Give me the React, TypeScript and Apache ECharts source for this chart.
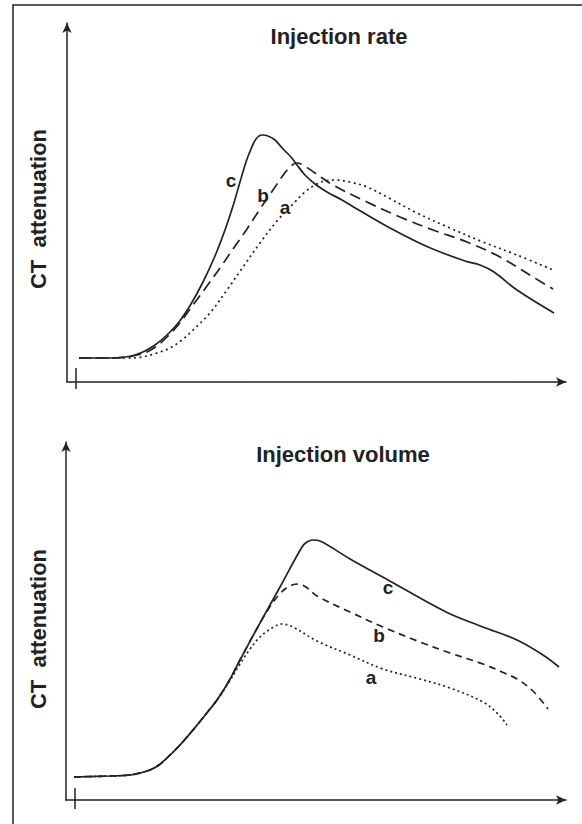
import React, { useEffect, useRef } from "react";
import * as echarts from "echarts";

// ---- texts ----
const curveNames = ["a", "b", "c"];
const panelTitles = ["Injection rate", "Injection volume"];
const yAxisTitle = "CT  attenuation";

// ---- data (x: time, y: attenuation; arbitrary units) ----
// Panel 1: Injection rate
const rateA: [number, number][] = [
  [12, 24], [43, 24], [60, 24], [75, 25], [90, 29], [103, 34], [115, 42], [126, 52],
  [143, 69], [160, 92], [176, 115], [193, 139], [210, 161], [226, 178], [238, 190],
  [248, 197], [258, 201], [268, 202], [283, 200], [300, 195], [320, 185], [350, 169],
  [383, 154], [416, 140], [450, 127], [486, 112],
];
const rateB: [number, number][] = [
  [12, 24], [43, 24], [60, 25], [70, 27], [80, 30], [90, 36], [100, 45], [112, 58],
  [126, 77], [140, 96], [153, 114], [166, 133], [180, 153], [193, 173], [206, 192],
  [217, 208], [224, 216], [230, 219], [236, 217], [248, 209], [266, 197], [300, 180],
  [333, 165], [366, 152], [400, 140], [433, 125], [466, 105], [486, 93],
];
const rateC: [number, number][] = [
  [12, 24], [43, 24], [58, 25], [68, 27], [78, 31], [88, 37], [100, 47], [112, 60],
  [124, 78], [136, 100], [148, 126], [158, 152], [166, 176], [173, 200], [179, 220],
  [184, 233], [189, 243], [195, 247], [201, 246], [208, 242], [216, 233], [224, 225],
  [230, 217], [238, 207], [248, 198], [260, 190], [275, 182], [290, 173], [323, 154],
  [361, 135], [398, 121], [413, 117], [427, 110], [450, 92], [487, 69],
];
// Panel 2: Injection volume
const volumeA: [number, number][] = [
  [8, 23], [44, 24], [64, 25], [74, 27], [84, 30], [93, 35], [101, 42], [114, 55],
  [127, 70], [140, 86], [151, 100], [163, 118], [174, 136], [184, 151], [194, 163],
  [206, 172], [216, 176], [227, 173], [251, 159], [284, 145], [317, 131], [354, 121],
  [384, 112], [417, 98], [432, 86], [441, 75],
];
const volumeB: [number, number][] = [
  [8, 23], [44, 24], [64, 25], [74, 27], [84, 30], [93, 35], [101, 42], [114, 55],
  [127, 70], [140, 86], [151, 100], [163, 119], [174, 140], [194, 177], [205, 195],
  [212, 204], [219, 211], [226, 215], [232, 216], [240, 213], [251, 204], [284, 188],
  [317, 173], [354, 158], [384, 147], [417, 136], [436, 128], [451, 121], [467, 109], [482, 91],
];
const volumeC: [number, number][] = [
  [8, 23], [44, 24], [64, 25], [74, 27], [84, 30], [93, 35], [101, 42], [114, 55],
  [127, 70], [140, 86], [151, 100], [163, 119], [174, 140], [194, 177], [214, 213],
  [236, 253], [241, 258], [247, 260], [254, 259], [284, 241], [322, 220], [380, 188],
  [417, 173], [451, 160], [477, 145], [493, 133],
];

// curve label anchor points (a, b, c)
const rateLabelAt: [number, number][] = [[218, 175], [196, 187], [164, 202]];
const volumeLabelAt: [number, number][] = [[305, 123], [313, 165], [322, 213]];

// small vertical mark on the time axis (injection start)
const rateStartMark: [number, number][] = [[9, -7], [9, 14]];
const volumeStartMark: [number, number][] = [[9, -9], [9, 12]];

const INK = "#222222";
const FONT = "'Liberation Sans', Arial, Helvetica, sans-serif";

export default function App() {
  const ref = useRef<HTMLDivElement>(null);

  useEffect(() => {
    const chart = echarts.init(ref.current!, null, { renderer: "svg" });

    const axisLine = {
      show: true,
      onZero: false,
      symbol: ["none", "arrow"],
      symbolSize: [7, 10],
      lineStyle: { color: INK, width: 1.5 },
    };
    const axis = (gridIndex: number, max: number) => ({
      type: "value",
      gridIndex,
      min: 0,
      max,
      axisLine,
      axisTick: { show: false },
      axisLabel: { show: false },
      splitLine: { show: false },
    });

    const curve = (
      name: string,
      data: [number, number][],
      idx: number,
      dash: any,
      width: number
    ) => ({
      type: "line",
      name,
      data,
      xAxisIndex: idx,
      yAxisIndex: idx,
      smooth: 0.35,
      symbol: "none",
      silent: true,
      lineStyle: { color: INK, width, type: dash },
    });

    const mark = (data: [number, number][], idx: number) => ({
      type: "line",
      data,
      xAxisIndex: idx,
      yAxisIndex: idx,
      clip: false,
      symbol: "none",
      silent: true,
      lineStyle: { color: INK, width: 1.5 },
    });

    const textStyle = {
      fontSize: 22,
      fontWeight: "bold",
      fontFamily: FONT,
      fill: INK,
      align: "center",
      verticalAlign: "middle",
    };

    chart.setOption({
      animation: false,
      backgroundColor: "#ffffff",
      grid: [
        { left: 67, right: 16, top: 23, bottom: 442 },
        { left: 66, right: 16, top: 442, bottom: 24 },
      ],
      xAxis: [axis(0, 499), axis(1, 500)],
      yAxis: [axis(0, 359), axis(1, 358)],
      series: [
        curve("a", rateA, 0, [2, 3.5], 1.7),
        curve("b", rateB, 0, [11, 6], 1.7),
        curve("c", rateC, 0, "solid", 1.7),
        curve("a", volumeA, 1, [2, 3], 1.7),
        curve("b", volumeB, 1, [7, 5], 1.7),
        curve("c", volumeC, 1, "solid", 1.7),
        mark(rateStartMark, 0),
        mark(volumeStartMark, 1),
      ],
    });

    const curveLabels: any[] = [];
    [rateLabelAt, volumeLabelAt].forEach((pts, gridIndex) => {
      pts.forEach((p, i) => {
        const px = chart.convertToPixel({ gridIndex }, p) as number[];
        curveLabels.push({
          type: "text",
          x: px[0],
          y: px[1],
          silent: true,
          style: {
            text: curveNames[i],
            fontSize: 19,
            fontWeight: "bold",
            fontFamily: FONT,
            fill: INK,
            align: "center",
            verticalAlign: "middle",
          },
        });
      });
    });

    chart.setOption({
      graphic: [
        {
          type: "rect",
          silent: true,
          shape: { x: 13, y: 5, width: 620, height: 900 },
          style: { fill: "none", stroke: INK, lineWidth: 1.5 },
        },
        { type: "text", x: 339, y: 36, silent: true, style: { ...textStyle, text: panelTitles[0] } },
        { type: "text", x: 343, y: 454, silent: true, style: { ...textStyle, text: panelTitles[1] } },
        {
          type: "text",
          x: 38,
          y: 209,
          rotation: Math.PI / 2,
          silent: true,
          style: { ...textStyle, text: yAxisTitle },
        },
        {
          type: "text",
          x: 38,
          y: 629,
          rotation: Math.PI / 2,
          silent: true,
          style: { ...textStyle, text: yAxisTitle },
        },
        ...curveLabels,
      ],
    });

    return () => chart.dispose();
  }, []);

  return (
    <div
      ref={ref}
      style={{ position: "absolute", left: 0, top: 0, width: 582, height: 824 }}
    />
  );
}
